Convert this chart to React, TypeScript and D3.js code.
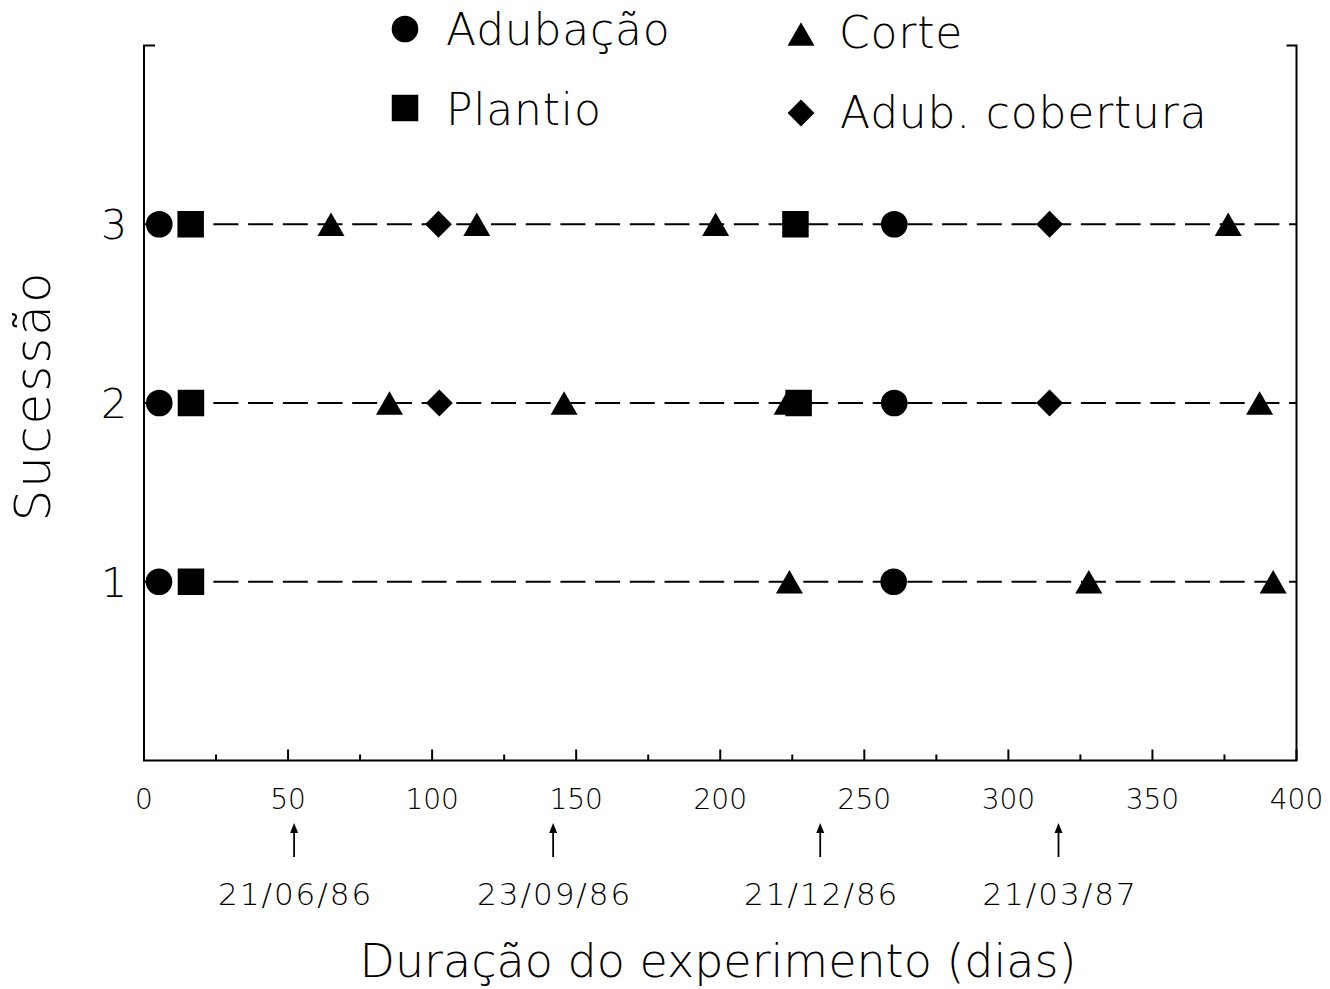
import React from "react";
import * as d3 from "d3";

const WIDTH = 1330;
const HEIGHT = 989;

// Rows of the experiment (sucessões) and the events recorded on each, in days
const sucessoes = [1, 2, 3];

const adubacao = [
  { s: 3, d: 5.3 }, { s: 3, d: 260.4 },
  { s: 2, d: 5.3 }, { s: 2, d: 260.4 },
  { s: 1, d: 5.2 }, { s: 1, d: 260.2 },
];

const plantio = [
  { s: 3, d: 16.2 }, { s: 3, d: 226.1 },
  { s: 2, d: 16.3 }, { s: 2, d: 227.2 },
  { s: 1, d: 16.3 },
];

const corte = [
  { s: 3, d: 64.9 }, { s: 3, d: 115.5 }, { s: 3, d: 198.4 }, { s: 3, d: 376.3 },
  { s: 2, d: 85.2 }, { s: 2, d: 145.8 }, { s: 2, d: 223.2 }, { s: 2, d: 387.2 },
  { s: 1, d: 224.0 }, { s: 1, d: 327.9 }, { s: 1, d: 391.9 },
];

const adubCobertura = [
  { s: 3, d: 102.2 }, { s: 3, d: 314.3 },
  { s: 2, d: 102.5 }, { s: 2, d: 314.3 },
];

// Calendar landmarks under the day axis
const marcosDias = [52.1, 142, 234.7, 317.4];
const marcosDatas = ["21/06/86", "23/09/86", "21/12/86", "21/03/87"];

const xTickValues = d3.range(0, 401, 25);
const yTickValues = [1, 2, 3];

const FONT = "'DejaVu Sans', 'Liberation Sans', sans-serif";

const x = d3.scaleLinear().domain([0, 400]).range([144, 1296.5]);
const y = d3.scaleLinear().domain([0, 4]).range([760.5, 45.5]);

const circlePath = d3.symbol(d3.symbolCircle, Math.PI * 13.3 * 13.3)()!;
const squarePath = d3.symbol(d3.symbolSquare, 26.5 * 26.5)()!;
const diamondPath = d3.symbol(d3.symbolSquare, 19 * 19)()!;
const triW = 27;
const triH = 23.5;
const trianglePath = `M0,${-triH / 2}L${triW / 2},${triH / 2}L${-triW / 2},${triH / 2}Z`;

type Shape = "circle" | "square" | "triangle" | "diamond";

function Marker({ shape, cx, cy }: { shape: Shape; cx: number; cy: number }) {
  if (shape === "circle") return <path d={circlePath} transform={`translate(${cx},${cy})`} fill="#000" />;
  if (shape === "square") return <path d={squarePath} transform={`translate(${cx},${cy})`} fill="#000" />;
  if (shape === "diamond")
    return <path d={diamondPath} transform={`translate(${cx},${cy}) rotate(45)`} fill="#000" />;
  return <path d={trianglePath} transform={`translate(${cx},${cy})`} fill="#000" />;
}

const legenda: { shape: Shape; label: string; mx: number; my: number; tx: number; ty: number }[] = [
  { shape: "circle", label: "Adubação", mx: 405, my: 29, tx: 446, ty: 45 },
  { shape: "square", label: "Plantio", mx: 405, my: 108, tx: 446, ty: 125 },
  { shape: "triangle", label: "Corte", mx: 801, my: 34, tx: 839, ty: 48 },
  { shape: "diamond", label: "Adub. cobertura", mx: 801, my: 113, tx: 840, ty: 128 },
];

export default function App() {
  const axisY = y(0);
  const x0 = x(0);
  const x1 = x(400);
  const top = y(4);

  return (
    <svg
      width={WIDTH}
      height={HEIGHT}
      viewBox={`0 0 ${WIDTH} ${HEIGHT}`}
      style={{ position: "absolute", left: 0, top: 0, background: "#fff" }}
      fontFamily={FONT}
      fontWeight={200}
    >
      <rect width={WIDTH} height={HEIGHT} fill="#fff" />

      {/* frame: left and right axes with short top brackets, bottom axis */}
      <g stroke="#000" strokeWidth={2} fill="none">
        <path d={`M${x0 + 11},${top}H${x0}V${axisY}H${x1}V${top}H${x1 - 10}`} />
      </g>

      {/* day ticks */}
      <g stroke="#000" strokeWidth={2}>
        {xTickValues.map((t) => (
          <line key={t} x1={x(t)} x2={x(t)} y1={axisY} y2={axisY - (t % 50 === 0 ? 11 : 6)} />
        ))}
      </g>
      <g fontSize={28} textAnchor="middle" fill="#000">
        {xTickValues
          .filter((t) => t % 50 === 0)
          .map((t) => (
            <text key={t} x={x(t)} y={809}>
              {t}
            </text>
          ))}
      </g>

      {/* sucessão labels */}
      <g fontSize={41} textAnchor="end" fill="#000">
        {yTickValues.map((t) => (
          <text key={t} x={127} y={y(t) + 41 * 0.365}>
            {t}
          </text>
        ))}
      </g>

      {/* dashed timelines */}
      <g stroke="#000" strokeWidth={2} strokeDasharray="25 9.7">
        {sucessoes.map((s) => (
          <line key={s} x1={x(0)} x2={x(400)} y1={y(s)} y2={y(s)} />
        ))}
      </g>

      {/* events */}
      <g>
        {corte.map((p, i) => (
          <Marker key={`c${i}`} shape="triangle" cx={x(p.d)} cy={y(p.s)} />
        ))}
        {adubCobertura.map((p, i) => (
          <Marker key={`ac${i}`} shape="diamond" cx={x(p.d)} cy={y(p.s)} />
        ))}
        {plantio.map((p, i) => (
          <Marker key={`p${i}`} shape="square" cx={x(p.d)} cy={y(p.s)} />
        ))}
        {adubacao.map((p, i) => (
          <Marker key={`a${i}`} shape="circle" cx={x(p.d)} cy={y(p.s)} />
        ))}
      </g>

      {/* calendar arrows and dates */}
      <g>
        {marcosDias.map((d, i) => (
          <g key={d}>
            <line x1={x(d)} x2={x(d)} y1={857} y2={830} stroke="#000" strokeWidth={1.8} />
            <path
              d={`M${x(d)},${823}L${x(d) + 4},${833}L${x(d) - 4},${833}Z`}
              fill="#000"
            />
            <text
              x={x(d) + 1.5}
              y={905}
              fontSize={31}
              letterSpacing={2}
              textAnchor="middle"
              fill="#000"
            >
              {marcosDatas[i]}
            </text>
          </g>
        ))}
      </g>

      {/* axis titles */}
      <text x={718} y={977} fontSize={46} textAnchor="middle" fill="#000">
        Duração do experimento (dias)
      </text>
      <text
        transform={`translate(50,396) rotate(-90)`}
        fontSize={50}
        letterSpacing={2}
        textAnchor="middle"
        fill="#000"
      >
        Sucessão
      </text>

      {/* legend */}
      <g>
        {legenda.map((l) => (
          <g key={l.label}>
            <Marker shape={l.shape} cx={l.mx} cy={l.my} />
            <text x={l.tx} y={l.ty} fontSize={44} letterSpacing={0.8} fill="#000">
              {l.label}
            </text>
          </g>
        ))}
      </g>
    </svg>
  );
}
